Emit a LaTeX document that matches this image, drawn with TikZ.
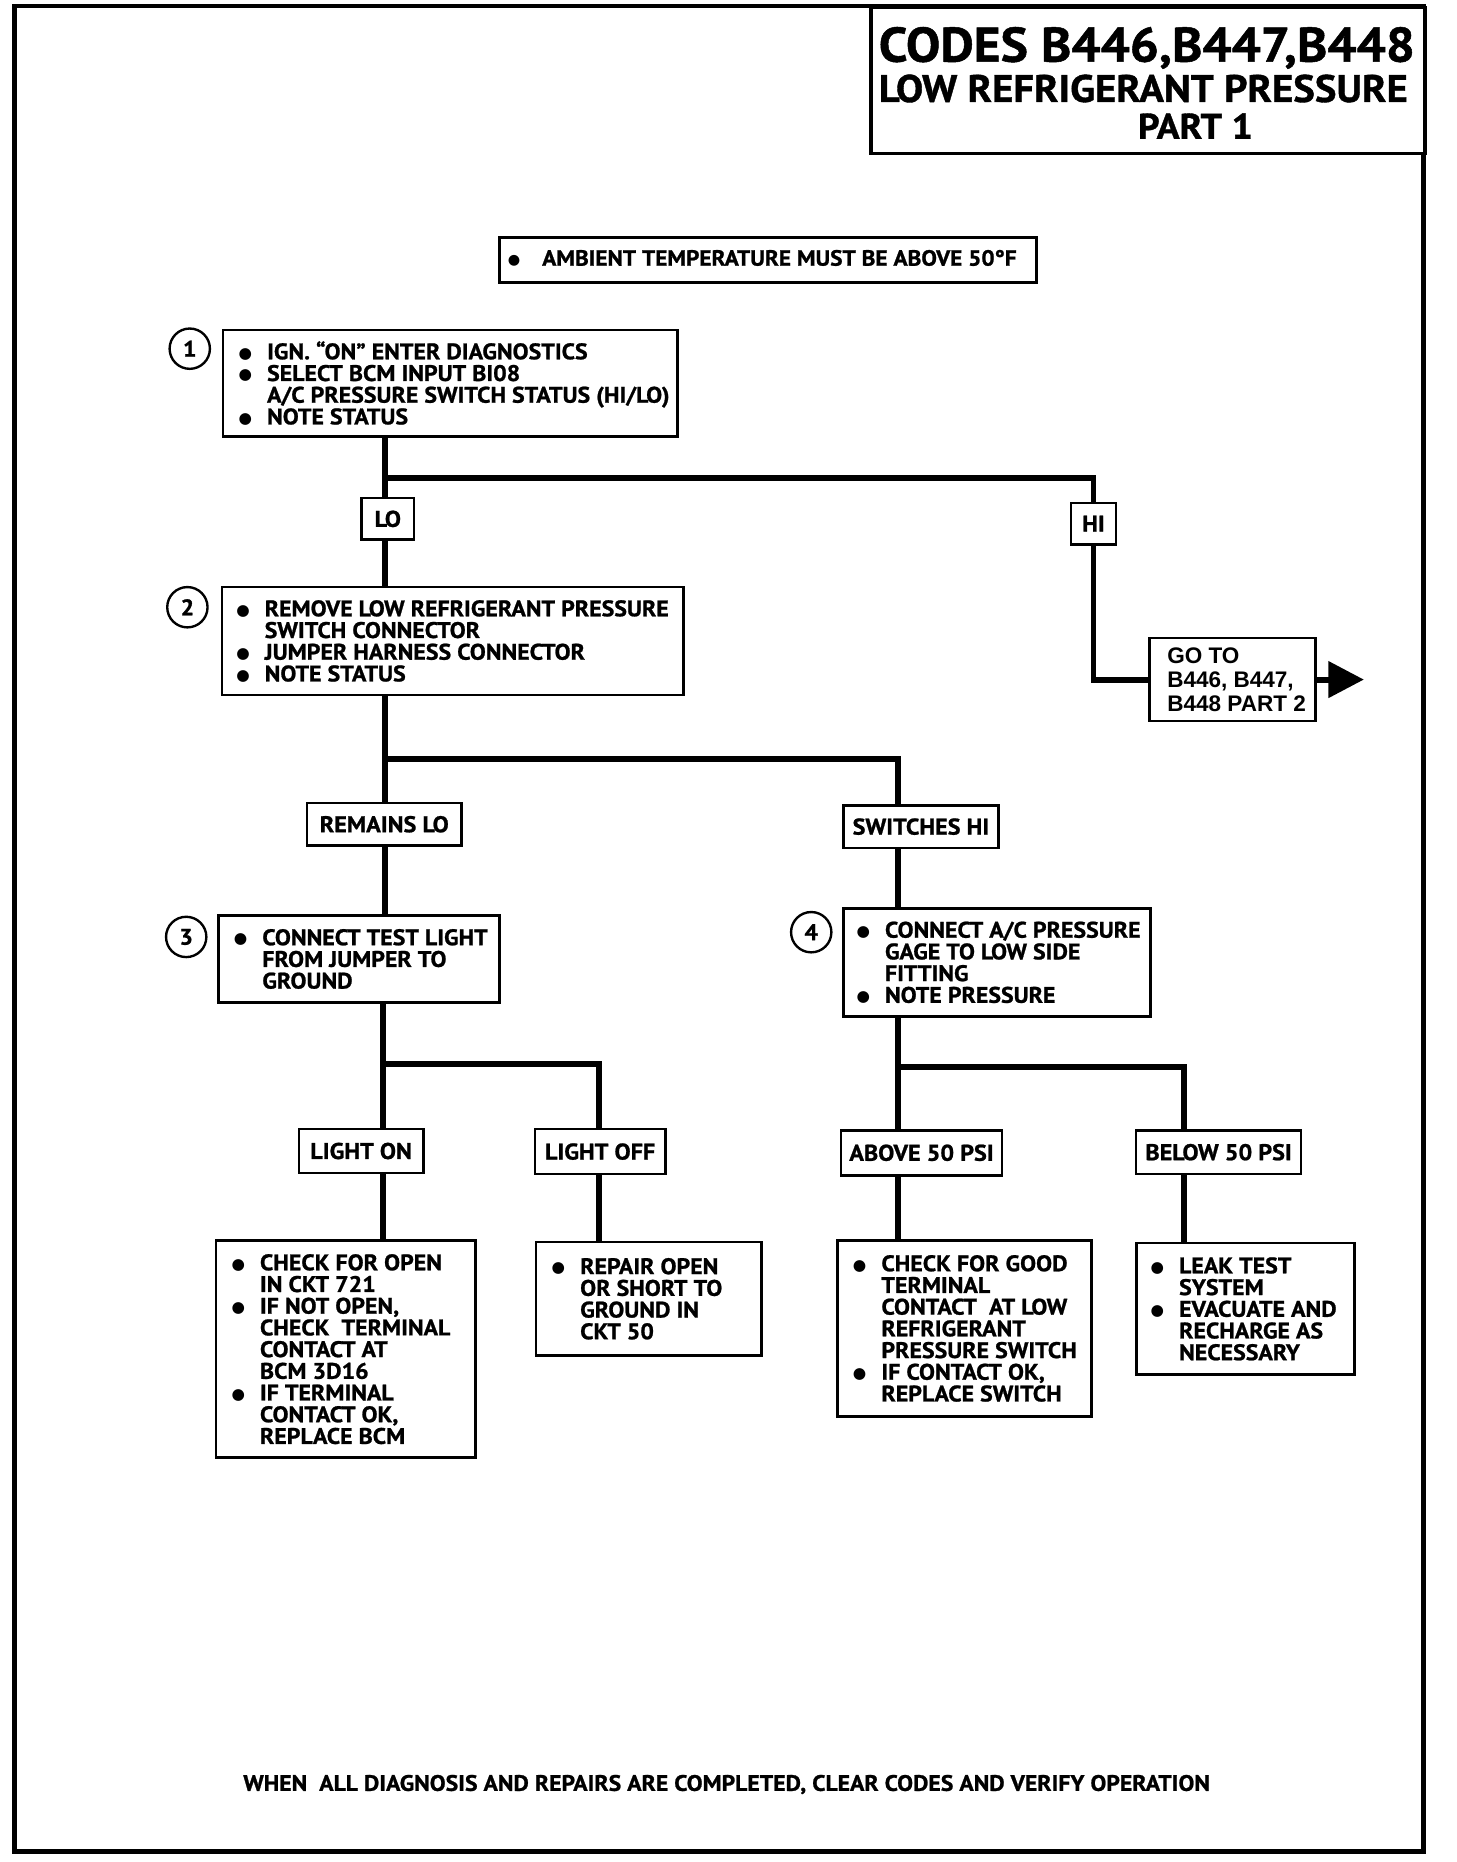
\documentclass[tikz,border=0pt]{standalone}
\usepackage{fontspec}
\setmainfont{PT Sans}
\newfontfamily\bodyf{PT Sans}[BoldFeatures={FakeStretch=1.06,FakeBold=1}]
\newfontfamily\arialf{Liberation Sans}
\newfontfamily\djf{DejaVu Sans}
\usepackage{graphicx}
\usetikzlibrary{arrows.meta}
\newcommand\bodyfont{\bodyf\bfseries\fontsize{19}{18.3}\selectfont}
\newcommand\lblfont{\bodyf\bfseries\fontsize{19.2}{19}\selectfont}
\newcommand\bul{\makebox[24pt][l]{\raisebox{1pt}{\djf\fontsize{13}{13}\selectfont ●}}}
\newcommand\ind{\hspace*{24pt}}
\tikzset{
  box/.style={draw, line width=2.2pt, inner sep=0pt, anchor=north west, fill=white},
  txt/.style={inner sep=0pt, anchor=west, align=left, font=\bodyfont},
  lbl/.style={draw, line width=2.2pt, inner sep=0pt, font=\lblfont, fill=white},
  circ/.style={draw, circle, line width=2pt, minimum size=34pt, inner sep=0pt, font=\bodyf\bfseries\fontsize{19}{19}\selectfont},
  conn/.style={line width=5pt, line join=miter},
}
\begin{document}
\begin{tikzpicture}[x=1pt,y=-1pt]
\useasboundingbox (0,0) rectangle (1228,1570);
% frame
\draw[line width=4pt] (12,5) rectangle (1200,1561);
% title
\node[box, line width=3pt, minimum width=467pt, minimum height=123pt] (title) at (733,5) {};
\node[anchor=base, inner sep=0pt] (tt1) at (967,52) {\resizebox{452pt}{!}{\bodyf\bfseries CODES B446,B447,B448}};
\node[anchor=base, inner sep=0pt] (tt2) at (964,86) {\resizebox{446pt}{!}{\bodyf\bfseries LOW REFRIGERANT PRESSURE}};
\node[anchor=base, inner sep=0pt] (tt3) at (1008,117) {\resizebox{97pt}{!}{\bodyf\bfseries PART 1}};
% ambient
\node[box, minimum width=453pt, minimum height=38pt] (amb) at (420,199) {};
\node[anchor=base west, inner sep=0pt, font=\bodyf\bfseries\fontsize{16}{18}\selectfont] (ambt) at (428,224) {\makebox[29pt][l]{\raisebox{1pt}{\djf\fontsize{12}{12}\selectfont ●}}\resizebox{400pt}{!}{AMBIENT TEMPERATURE MUST BE ABOVE 50°F}};
% step 1
\node[circ] (c1) at (160,294) {1};
\node[box, minimum width=383pt, minimum height=90pt] (b1) at (187,277) {};
\node[txt] (t1) at ([xshift=14pt]b1.west) {\bul IGN. “ON” ENTER DIAGNOSTICS\\\bul SELECT BCM INPUT BI08\\\ind A/C PRESSURE SWITCH STATUS (HI/LO)\\\bul NOTE STATUS};
\node[lbl, minimum width=44pt, minimum height=35pt] (lo) at (327,437.5) {LO};
\node[lbl, minimum width=38pt, minimum height=35pt] (hi) at (922,441.5) {HI};
\node[box, minimum width=140pt, minimum height=70pt, anchor=west] (goto) at (968,573) {};
\node[anchor=west, inner sep=0pt, align=left, font=\arialf\bfseries\fontsize{19}{20}\selectfont] (gotot) at ([xshift=16pt]goto.west) {GO TO\\B446, B447,\\B448 PART 2};
\coordinate (tip) at (1150,573);
% step 2
\node[circ] (c2) at (158,512) {2};
\node[box, minimum width=389pt, minimum height=91pt] (b2) at (186,494) {};
\node[txt] (t2) at ([xshift=13pt]b2.west) {\bul REMOVE LOW REFRIGERANT PRESSURE\\\ind SWITCH CONNECTOR\\\bul JUMPER HARNESS CONNECTOR\\\bul NOTE STATUS};
\node[lbl, minimum width=130pt, minimum height=36pt] (rlo) at (324,695) {REMAINS LO};
\node[lbl, minimum width=131pt, minimum height=36pt] (shi) at (776.5,697) {SWITCHES HI};
% step 3
\node[circ] (c3) at (157,790) {3};
\node[box, minimum width=237pt, minimum height=73pt] (b3) at (183,771) {};
\node[txt] (t3) at ([xshift=14pt]b3.west) {\bul CONNECT TEST LIGHT\\\ind FROM JUMPER TO\\\ind GROUND};
% step 4
\node[circ] (c4) at (684,786) {4};
\node[box, minimum width=259pt, minimum height=91pt] (b4) at (710,765) {};
\node[txt] (t4) at ([xshift=12pt]b4.west) {\bul CONNECT A/C PRESSURE\\\ind GAGE TO LOW SIDE\\\ind FITTING\\\bul NOTE PRESSURE};
% labels level 3
\node[lbl, minimum width=105pt, minimum height=37pt] (lon) at (304.5,970.5) {LIGHT ON};
\node[lbl, minimum width=110pt, minimum height=38pt] (loff) at (506,971) {LIGHT OFF};
\node[lbl, minimum width=136pt, minimum height=38pt] (above) at (777,972) {ABOVE 50 PSI};
\node[lbl, minimum width=139pt, minimum height=37pt] (below) at (1027.5,971.5) {BELOW 50 PSI};
% results
\node[box, minimum width=219pt, minimum height=183pt] (r1) at (181,1045) {};
\node[txt] (rt1) at ([xshift=14pt]r1.west) {\bul CHECK FOR OPEN\\\ind IN CKT 721\\\bul IF NOT OPEN,\\\ind CHECK\ \ TERMINAL\\\ind CONTACT AT\\\ind BCM 3D16\\\bul IF TERMINAL\\\ind CONTACT OK,\\\ind REPLACE BCM};
\node[box, minimum width=190pt, minimum height=96pt] (r2) at (451,1046) {};
\node[txt] (rt2) at ([xshift=14pt]r2.west) {\bul REPAIR OPEN\\\ind OR SHORT TO\\\ind GROUND IN\\\ind CKT 50};
\node[box, minimum width=214pt, minimum height=148pt] (r3) at (705,1045) {};
\node[txt] (rt3) at ([xshift=14pt]r3.west) {\bul CHECK FOR GOOD\\\ind TERMINAL\\\ind CONTACT\ \ AT LOW\\\ind REFRIGERANT\\\ind PRESSURE SWITCH\\\bul IF CONTACT OK,\\\ind REPLACE SWITCH};
\node[box, minimum width=184pt, minimum height=111pt] (r4) at (957,1047) {};
\node[txt] (rt4) at ([xshift=13pt]r4.west) {\bul LEAK TEST\\\ind SYSTEM\\\bul EVACUATE AND\\\ind RECHARGE AS\\\ind NECESSARY};
% bottom text
\node[anchor=base west, inner sep=0pt] (foot) at (205,1510) {\resizebox{815pt}{!}{\bodyf\bfseries WHEN\ \ ALL DIAGNOSIS AND REPAIRS ARE COMPLETED, CLEAR CODES AND VERIFY OPERATION}};
% connectors
\coordinate (x1) at (325,403);
\coordinate (x2) at (325,640);
\coordinate (x2r) at (757,640);
\coordinate (x3) at (323,897);
\coordinate (x3r) at (505,897);
\coordinate (x4) at (757,900);
\coordinate (x4r) at (998,900);
\draw[conn] (b1.south -| x1) -- (lo.north -| x1);
\draw[conn] (lo.south -| x1) -- (b2.north -| x1);
\draw[conn] (x1) -- (x1 -| hi) -- (hi.north);
\draw[conn] (hi.south) |- (goto.west);
\draw[conn, -{Triangle[length=30pt 0, width=30pt 0]}] (goto.east) -- (tip);
\draw[conn] (b2.south -| x2) -- (rlo.north -| x2);
\draw[conn] (rlo.south -| x2) -- (b3.north -| x2);
\draw[conn] (x2) -- (x2r) -- (shi.north -| x2r);
\draw[conn] (shi.south -| x2r) -- (b4.north -| x2r);
\draw[conn] (b3.south -| x3) -- (lon.north -| x3);
\draw[conn] (lon.south -| x3) -- (r1.north -| x3);
\draw[conn] (x3) -- (x3r) -- (loff.north -| x3r);
\draw[conn] (loff.south -| x3r) -- (r2.north -| x3r);
\draw[conn] (b4.south -| x4) -- (above.north -| x4);
\draw[conn] (above.south -| x4) -- (r3.north -| x4);
\draw[conn] (x4) -- (x4r) -- (below.north -| x4r);
\draw[conn] (below.south -| x4r) -- (r4.north -| x4r);
\end{tikzpicture}
\end{document}
